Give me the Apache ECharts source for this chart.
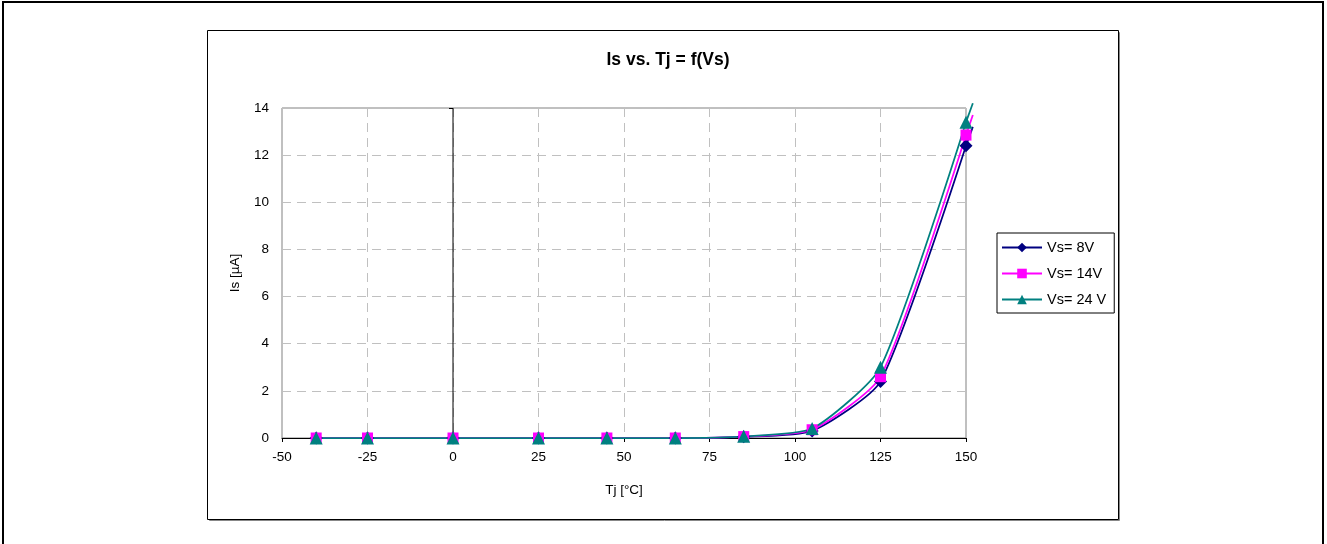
<!DOCTYPE html>
<html>
<head>
<meta charset="utf-8">
<script src="https://cdn.jsdelivr.net/npm/echarts@6/dist/echarts.min.js"></script>
<style>
html,body{margin:0;padding:0;background:#fff;}
#c{width:1327px;height:544px;}
</style>
</head>
<body>
<div id="c"></div>
<script>
// Data
var temps = [-40, -25, 0, 25, 45, 65, 85, 105, 125, 150];
var vs8  = [0, 0, 0, 0, 0, 0, 0.05, 0.30, 2.40, 12.40];
var vs14 = [0, 0, 0, 0, 0, 0, 0.06, 0.35, 2.60, 12.85];
var vs24 = [0, 0, 0, 0, 0, 0, 0.07, 0.40, 3.00, 13.40];
// line tail beyond the last marker (as drawn in the original)
var tailX = 152;
var tail8 = 13.2, tail14 = 13.7, tail24 = 14.2;
var seriesNames = ['Vs= 8V', 'Vs= 14V', 'Vs= 24 V'];
var seriesColors = ['#000080', '#FF00FF', '#008080'];
var xTicks = [-50, -25, 0, 25, 50, 75, 100, 125, 150];
var yTicks = [0, 2, 4, 6, 8, 10, 12, 14];

var FONT = 'Liberation Sans, Arial, sans-serif';
var chart = echarts.init(document.getElementById('c'));

function mkSeries(name, vals, color, symbol, size) {
  return {
    name: name,
    type: 'line',
    data: temps.map(function (t, i) { return [t, vals[i]]; }),
    smooth: 0.2,
    clip: false,
    symbol: symbol,
    symbolSize: size,
    showAllSymbol: true,
    lineStyle: { color: color, width: 1.75 },
    itemStyle: { color: color },
    emphasis: { disabled: true },
    animation: false,
    z: 3
  };
}

var baseGraphic = [
  { type: 'rect', shape: { x: 3, y: 2, width: 1320, height: 600 },
    style: { fill: 'none', stroke: '#000', lineWidth: 2 }, z: -10 },
  { type: 'rect', shape: { x: 209.5, y: 32.5, width: 910, height: 488 },
    style: { fill: 'none', stroke: '#888', lineWidth: 1 }, z: -9 },
  { type: 'rect', shape: { x: 207.5, y: 30.5, width: 911, height: 489 },
    style: { fill: '#fff', stroke: '#000', lineWidth: 1 }, z: -8 }
];

chart.setOption({
  animation: false,
  backgroundColor: '#fff',
  textStyle: { fontFamily: FONT },
  title: {
    text: 'Is vs. Tj = f(Vs)',
    left: 663, top: 46, textAlign: 'center',
    textStyle: { fontFamily: FONT, fontSize: 17.5, fontWeight: 'bold', color: '#000' }
  },
  graphic: baseGraphic,
  legend: {
    orient: 'vertical',
    left: 997, top: 233,
    data: seriesNames,
    itemWidth: 40, itemHeight: 12,
    itemGap: 11,
    padding: [7, 8, 6, 4],
    borderColor: '#000', borderWidth: 1,
    backgroundColor: '#fff',
    textStyle: { fontFamily: FONT, fontSize: 14.5, color: '#000' },
    selectedMode: false
  },
  grid: {
    left: 282, right: 361, top: 108, bottom: 106,
    show: true, borderColor: '#808080', borderWidth: 1, backgroundColor: 'transparent'
  },
  xAxis: {
    type: 'value', min: -50, max: 150, interval: 25,
    name: 'Tj [°C]', nameLocation: 'middle', nameGap: 45,
    nameTextStyle: { fontFamily: FONT, fontSize: 13.5, color: '#000' },
    axisLine: { show: true, onZero: false, lineStyle: { color: '#000', width: 1 } },
    axisTick: { show: true, length: 4, lineStyle: { color: '#000' } },
    axisLabel: { fontFamily: FONT, fontSize: 13.5, color: '#000', margin: 12,
      formatter: function (v) { return xTicks.indexOf(v) >= 0 ? String(v) : ''; } },
    splitLine: { show: true, lineStyle: { color: '#c0c0c0', type: [9, 6], width: 1 } }
  },
  yAxis: {
    type: 'value', min: 0, max: 14, interval: 2,
    name: 'Is [µA]', nameLocation: 'middle', nameGap: 40,
    nameTextStyle: { fontFamily: FONT, fontSize: 13.5, color: '#000' },
    axisLine: { show: false },
    axisTick: { show: false },
    axisLabel: { fontFamily: FONT, fontSize: 13.5, color: '#000', margin: 13,
      formatter: function (v) { return yTicks.indexOf(v) >= 0 ? String(v) : ''; } },
    splitLine: { show: true, lineStyle: { color: '#c0c0c0', type: [9, 6], width: 1 } }
  },
  series: [
    mkSeries(seriesNames[0], vs8, seriesColors[0], 'diamond', 13),
    mkSeries(seriesNames[1], vs14, seriesColors[1], 'rect', 11),
    mkSeries(seriesNames[2], vs24, seriesColors[2], 'triangle', 13)
  ]
});

// Extra elements positioned through the chart's own scales
var n = temps.length - 1;
var tails = [[vs8[n], tail8], [vs14[n], tail14], [vs24[n], tail24]];
var extra = baseGraphic.slice();
tails.forEach(function (tv, i) {
  var p0 = chart.convertToPixel({ gridIndex: 0 }, [temps[n], tv[0]]);
  var p1 = chart.convertToPixel({ gridIndex: 0 }, [tailX, tv[1]]);
  extra.push({ type: 'line', shape: { x1: p0[0], y1: p0[1], x2: p1[0], y2: p1[1] },
    style: { stroke: seriesColors[i], lineWidth: 1.75 }, z: 2 });
});
// y axis line crossing at Tj = 0
var a0 = chart.convertToPixel({ gridIndex: 0 }, [0, 0]);
var a1 = chart.convertToPixel({ gridIndex: 0 }, [0, 14]);
extra.push({ type: 'line', shape: { x1: a0[0], y1: a0[1], x2: a1[0], y2: a1[1] },
  style: { stroke: '#000', lineWidth: 1 }, z: 1 });
extra.push({ type: 'line', shape: { x1: a1[0] - 4, y1: a1[1] + 0.5, x2: a1[0], y2: a1[1] + 0.5 },
  style: { stroke: '#000', lineWidth: 1 }, z: 1 });
chart.setOption({ graphic: extra }, { replaceMerge: ['graphic'] });
</script>
</body>
</html>
